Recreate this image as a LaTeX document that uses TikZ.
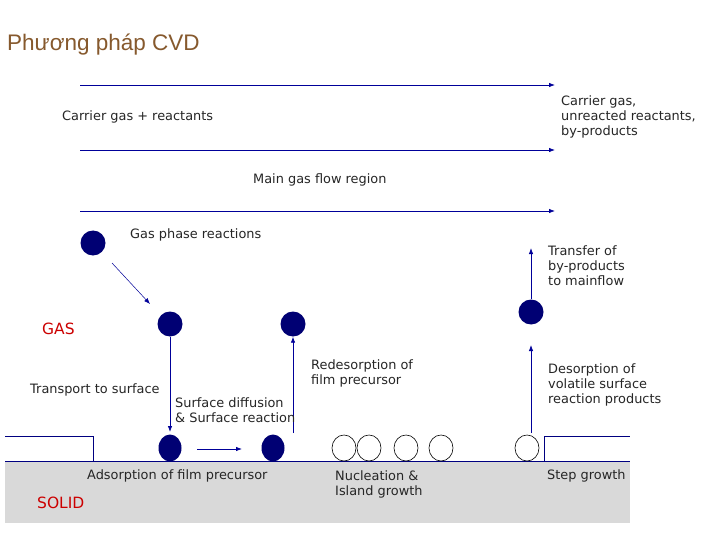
\documentclass[tikz,border=0pt]{standalone}
\usepackage{fontspec}
\setmainfont{DejaVu Sans}
\newfontfamily\titlefont{Liberation Sans}
\begin{document}
\begin{tikzpicture}[x=1pt,y=-1pt,
  lbl/.style={anchor=west,font=\fontsize{12.9}{15}\selectfont,text=black!85,inner sep=0pt,align=left},
  flow/.style={draw=blue!60!black,-{Latex[length=6pt,width=4.5pt]},line width=0.8pt},
  ball/.style={circle,fill=blue!45!black,minimum size=25pt,inner sep=0pt},
  sball/.style={ellipse,fill=blue!45!black,minimum width=23pt,minimum height=27pt,inner sep=0pt},
  oball/.style={ellipse,draw=black,fill=white,minimum width=24pt,minimum height=26pt,inner sep=0pt,line width=0.6pt},
  red/.style={anchor=west,font=\fontsize{15.5}{17}\selectfont,text=red!80!black,inner sep=0pt}]
\usetikzlibrary{arrows.meta,shapes.geometric}
\useasboundingbox (0,0) rectangle (720,540);
\fill[white] (0,0) rectangle (720,540);
\node[anchor=west,inner sep=0pt,text=brown!70!black,font=\titlefont\fontsize{22.5}{24}\selectfont] (title) at (7,45) {Phương pháp CVD};
% flow arrows
\coordinate (a1) at (80,85); \coordinate (b1) at (555,85);
\coordinate (a2) at (80,150); \coordinate (b2) at (555,150);
\coordinate (a3) at (80,211); \coordinate (b3) at (555,211);
\draw[flow] (a1) -- (b1); \draw[flow] (a2) -- (b2); \draw[flow] (a3) -- (b3);
\node[lbl] (t1) at (62,117) {Carrier gas + reactants};
\node[lbl] (t2) at (561,117) {Carrier gas,\\unreacted reactants,\\by-products};
\node[lbl] (t3) at (253,180) {Main gas flow region};
% solid
\fill[gray!30] (5,461) rectangle (630,523);
\draw[blue!50!black,line width=0.8pt] (5,461) -- (630,461);
\draw[blue!50!black,line width=0.8pt] (5,436) -- (93,436) -- (93,461);
\draw[blue!50!black,line width=0.8pt] (544,461) -- (544,436) -- (630,436);
% balls
\node[ball] (g0) at (93,243) {};
\node[lbl] (t4) at (130,235) {Gas phase reactions};
\node[ball] (g1) at (170,324) {};
\node[ball] (g2) at (293,324) {};
\node[ball] (g3) at (531,312) {};
\node[red] (gas) at (42,329) {GAS};
\coordinate (w1) at (112,263); \coordinate (w2) at (150,304);
\draw[flow,line width=0.5pt] (w1) -- (w2);
\node[sball] (s1) at (170,448) {};
\node[sball] (s2) at (273,448) {};
\coordinate (c1) at (197,449); \coordinate (c2) at (242,449);
\draw[flow] (c1) -- (c2);
\foreach \x/\n in {344/o1,369/o2,406/o3,441/o4,527/o5} \node[oball] (\n) at (\x,448) {};
\coordinate (d1) at (170,432); \draw[flow] (g1) -- (d1);
\coordinate (u1) at (293,433); \draw[flow] (u1) -- (g2);
\coordinate (u2) at (531,433); \coordinate (u2e) at (531,345); \draw[flow] (u2) -- (u2e);
\coordinate (u3) at (531,248); \draw[flow] (g3) -- (u3);
\node[lbl] (t5) at (548,266) {Transfer of\\by-products\\to mainflow};
\node[lbl] (t6) at (311,373) {Redesorption of\\film precursor};
\node[lbl] (t7) at (548,385) {Desorption of\\volatile surface\\reaction products};
\node[lbl] (t8) at (30,390) {Transport to surface};
\node[lbl] (t9) at (175,410) {Surface diffusion\\\& Surface reaction};
\node[lbl] (t10) at (87,476) {Adsorption of film precursor};
\node[lbl] (t11) at (335,484) {Nucleation \&\\Island growth};
\node[lbl] (t12) at (547,476) {Step growth};
\node[red] (solid) at (37,503) {SOLID};
\end{tikzpicture}
\end{document}
